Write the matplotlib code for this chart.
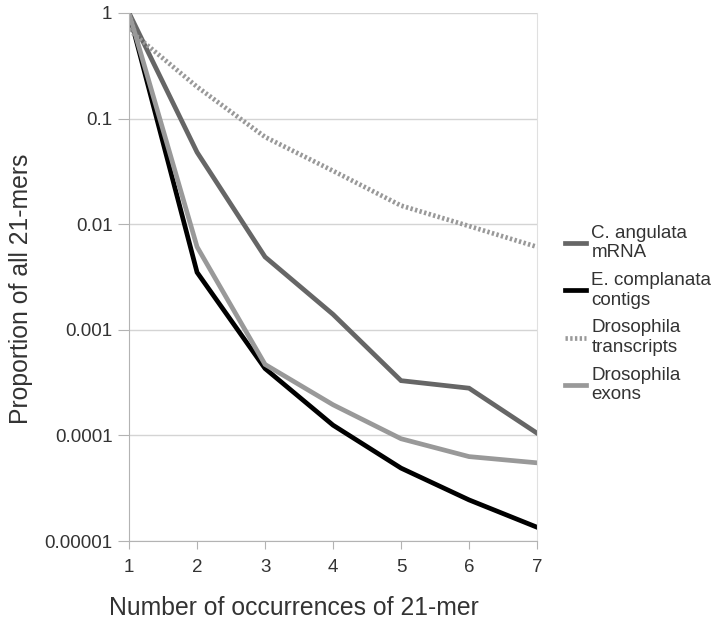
import numpy as np
import matplotlib
matplotlib.use("Agg")
import matplotlib.pyplot as plt
from matplotlib.ticker import FixedLocator, NullLocator

plt.rcParams['font.family'] = ['Liberation Sans', 'DejaVu Sans']

occurrences = [1, 2, 3, 4, 5, 6, 7]
c_angulata = [1.0, 0.048, 0.0049, 0.0014, 0.00033, 0.00028, 0.000105]
e_complanata = [1.0, 0.0035, 0.00043, 0.000125, 0.000049, 0.0000245, 0.0000135]
dros_transcripts = [0.69, 0.2, 0.067, 0.032, 0.015, 0.0096, 0.0061]
dros_exons = [1.0, 0.0061, 0.00047, 0.000195, 0.000093, 0.000063, 0.000055]

y_ticks = [1, 0.1, 0.01, 0.001, 0.0001, 0.00001]
y_ticklabels = ["1", "0.1", "0.01", "0.001", "0.0001", "0.00001"]

fig = plt.figure(figsize=(7.17, 6.19), dpi=100)
ax = fig.add_axes([0.18, 0.126, 0.569, 0.853])

lw = 3.4
ax.plot(occurrences, c_angulata, color='#666666', lw=lw, label='C. angulata\nmRNA', solid_joinstyle='miter')
ax.plot(occurrences, e_complanata, color='#000000', lw=lw, label='E. complanata\ncontigs', solid_joinstyle='miter')
ax.plot(occurrences, dros_transcripts, color='#999999', lw=lw, ls=(0, (0.5, 0.5)), label='Drosophila\ntranscripts')
ax.plot(occurrences, dros_exons, color='#999999', lw=lw, label='Drosophila\nexons', solid_joinstyle='miter')

ax.set_yscale('log')
ax.set_ylim(0.00001, 1)
ax.set_xlim(1, 7)
ax.yaxis.set_major_locator(FixedLocator(y_ticks))
ax.yaxis.set_minor_locator(NullLocator())
ax.set_yticklabels(y_ticklabels)
ax.set_xticks(occurrences)

ax.grid(axis='y', color='#d4d4d4', lw=1)
ax.set_axisbelow(True)
ax.spines['top'].set_visible(False)
ax.spines['right'].set_color('#e0e0e0')
ax.spines['left'].set_color('#b3b3b3')
ax.spines['bottom'].set_color('#b3b3b3')
ax.tick_params(axis='both', colors='#b3b3b3', labelcolor='#333333', labelsize=13.5, direction='out')
ax.tick_params(axis='y', length=8, pad=4)
ax.tick_params(axis='x', length=6, pad=7)

ax.set_xlabel('Number of occurrences of 21-mer', fontsize=17.8, color='#333333', labelpad=14, x=0.404)
ax.set_ylabel('Proportion of all 21-mers', fontsize=17.8, color='#333333', labelpad=8, y=0.477)

ax.legend(loc='center left', bbox_to_anchor=(1.069, 0.43), frameon=False, fontsize=13.5,
          handlelength=1.1, handletextpad=0.3, labelspacing=0.57, labelcolor='#333333',
          borderaxespad=0, borderpad=0)

fig.savefig('out.png', dpi=100)
